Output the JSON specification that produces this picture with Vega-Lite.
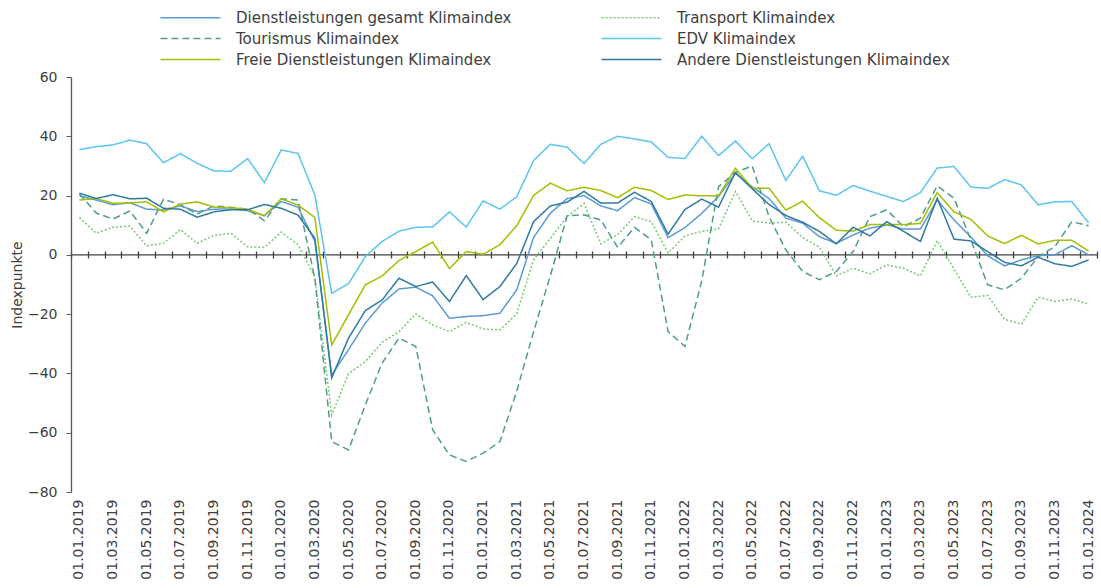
{
  "$schema": "https://vega.github.io/schema/vega-lite/v6.json",
  "width": 1026,
  "height": 415,
  "autosize": {"type": "none"},
  "padding": {"left": 71, "top": 77, "right": 4, "bottom": 96},
  "background": "white",
  "config": {
    "view": {"stroke": null},
    "font": "DejaVu Sans",
    "axis": {"labelFont": "DejaVu Sans", "titleFont": "DejaVu Sans"},
    "legend": {"labelFont": "DejaVu Sans"}
  },
  "datasets": {
    "klima": [
      {"d":"01.01.2019","Dienstleistungen gesamt Klimaindex":19.9,"Transport Klimaindex":12.6,"Tourismus Klimaindex":20.6,"EDV Klimaindex":35.5,"Freie Dienstleistungen Klimaindex":18.5,"Andere Dienstleistungen Klimaindex":20.8},
      {"d":"01.02.2019","Dienstleistungen gesamt Klimaindex":18.5,"Transport Klimaindex":7.3,"Tourismus Klimaindex":14.1,"EDV Klimaindex":36.5,"Freie Dienstleistungen Klimaindex":19.0,"Andere Dienstleistungen Klimaindex":19.0},
      {"d":"01.03.2019","Dienstleistungen gesamt Klimaindex":16.9,"Transport Klimaindex":9.3,"Tourismus Klimaindex":12.1,"EDV Klimaindex":37.1,"Freie Dienstleistungen Klimaindex":17.4,"Andere Dienstleistungen Klimaindex":20.3},
      {"d":"01.04.2019","Dienstleistungen gesamt Klimaindex":17.6,"Transport Klimaindex":9.7,"Tourismus Klimaindex":14.8,"EDV Klimaindex":38.7,"Freie Dienstleistungen Klimaindex":17.5,"Andere Dienstleistungen Klimaindex":18.9},
      {"d":"01.05.2019","Dienstleistungen gesamt Klimaindex":15.4,"Transport Klimaindex":3.0,"Tourismus Klimaindex":7.3,"EDV Klimaindex":37.5,"Freie Dienstleistungen Klimaindex":17.9,"Andere Dienstleistungen Klimaindex":19.1},
      {"d":"01.06.2019","Dienstleistungen gesamt Klimaindex":15.2,"Transport Klimaindex":3.9,"Tourismus Klimaindex":18.8,"EDV Klimaindex":31.1,"Freie Dienstleistungen Klimaindex":14.5,"Andere Dienstleistungen Klimaindex":15.7},
      {"d":"01.07.2019","Dienstleistungen gesamt Klimaindex":16.5,"Transport Klimaindex":8.5,"Tourismus Klimaindex":16.9,"EDV Klimaindex":34.1,"Freie Dienstleistungen Klimaindex":17.1,"Andere Dienstleistungen Klimaindex":15.4},
      {"d":"01.08.2019","Dienstleistungen gesamt Klimaindex":14.6,"Transport Klimaindex":3.9,"Tourismus Klimaindex":13.8,"EDV Klimaindex":30.9,"Freie Dienstleistungen Klimaindex":17.9,"Andere Dienstleistungen Klimaindex":12.7},
      {"d":"01.09.2019","Dienstleistungen gesamt Klimaindex":15.4,"Transport Klimaindex":6.6,"Tourismus Klimaindex":16.5,"EDV Klimaindex":28.3,"Freie Dienstleistungen Klimaindex":16.1,"Andere Dienstleistungen Klimaindex":14.5},
      {"d":"01.10.2019","Dienstleistungen gesamt Klimaindex":15.5,"Transport Klimaindex":7.3,"Tourismus Klimaindex":16.1,"EDV Klimaindex":28.2,"Freie Dienstleistungen Klimaindex":15.9,"Andere Dienstleistungen Klimaindex":15.2},
      {"d":"01.11.2019","Dienstleistungen gesamt Klimaindex":14.9,"Transport Klimaindex":2.7,"Tourismus Klimaindex":15.4,"EDV Klimaindex":32.5,"Freie Dienstleistungen Klimaindex":15.4,"Andere Dienstleistungen Klimaindex":15.2},
      {"d":"01.12.2019","Dienstleistungen gesamt Klimaindex":13.2,"Transport Klimaindex":2.5,"Tourismus Klimaindex":11.5,"EDV Klimaindex":24.4,"Freie Dienstleistungen Klimaindex":13.2,"Andere Dienstleistungen Klimaindex":17.0},
      {"d":"01.01.2020","Dienstleistungen gesamt Klimaindex":18.0,"Transport Klimaindex":7.7,"Tourismus Klimaindex":18.9,"EDV Klimaindex":35.4,"Freie Dienstleistungen Klimaindex":18.9,"Andere Dienstleistungen Klimaindex":15.7},
      {"d":"01.02.2020","Dienstleistungen gesamt Klimaindex":16.1,"Transport Klimaindex":3.4,"Tourismus Klimaindex":18.5,"EDV Klimaindex":34.2,"Freie Dienstleistungen Klimaindex":16.8,"Andere Dienstleistungen Klimaindex":13.4},
      {"d":"01.03.2020","Dienstleistungen gesamt Klimaindex":4.5,"Transport Klimaindex":-7.5,"Tourismus Klimaindex":-8.0,"EDV Klimaindex":20.2,"Freie Dienstleistungen Klimaindex":12.6,"Andere Dienstleistungen Klimaindex":5.6},
      {"d":"01.04.2020","Dienstleistungen gesamt Klimaindex":-40.5,"Transport Klimaindex":-54.0,"Tourismus Klimaindex":-63.0,"EDV Klimaindex":-13.0,"Freie Dienstleistungen Klimaindex":-30.4,"Andere Dienstleistungen Klimaindex":-41.5},
      {"d":"01.05.2020","Dienstleistungen gesamt Klimaindex":-32.0,"Transport Klimaindex":-40.1,"Tourismus Klimaindex":-65.8,"EDV Klimaindex":-9.7,"Freie Dienstleistungen Klimaindex":-20.2,"Andere Dienstleistungen Klimaindex":-28.1},
      {"d":"01.06.2020","Dienstleistungen gesamt Klimaindex":-23.0,"Transport Klimaindex":-36.0,"Tourismus Klimaindex":-50.6,"EDV Klimaindex":-0.6,"Freie Dienstleistungen Klimaindex":-10.1,"Andere Dienstleistungen Klimaindex":-18.8},
      {"d":"01.07.2020","Dienstleistungen gesamt Klimaindex":-16.3,"Transport Klimaindex":-29.5,"Tourismus Klimaindex":-36.5,"EDV Klimaindex":4.5,"Freie Dienstleistungen Klimaindex":-7.1,"Andere Dienstleistungen Klimaindex":-15.2},
      {"d":"01.08.2020","Dienstleistungen gesamt Klimaindex":-11.5,"Transport Klimaindex":-25.9,"Tourismus Klimaindex":-28.1,"EDV Klimaindex":8.0,"Freie Dienstleistungen Klimaindex":-1.9,"Andere Dienstleistungen Klimaindex":-7.9},
      {"d":"01.09.2020","Dienstleistungen gesamt Klimaindex":-10.9,"Transport Klimaindex":-19.9,"Tourismus Klimaindex":-30.9,"EDV Klimaindex":9.3,"Freie Dienstleistungen Klimaindex":1.1,"Andere Dienstleistungen Klimaindex":-10.7},
      {"d":"01.10.2020","Dienstleistungen gesamt Klimaindex":-13.8,"Transport Klimaindex":-23.6,"Tourismus Klimaindex":-59.0,"EDV Klimaindex":9.4,"Freie Dienstleistungen Klimaindex":4.3,"Andere Dienstleistungen Klimaindex":-9.2},
      {"d":"01.11.2020","Dienstleistungen gesamt Klimaindex":-21.4,"Transport Klimaindex":-25.9,"Tourismus Klimaindex":-67.5,"EDV Klimaindex":14.5,"Freie Dienstleistungen Klimaindex":-4.6,"Andere Dienstleistungen Klimaindex":-15.7},
      {"d":"01.12.2020","Dienstleistungen gesamt Klimaindex":-20.8,"Transport Klimaindex":-22.8,"Tourismus Klimaindex":-69.7,"EDV Klimaindex":9.4,"Freie Dienstleistungen Klimaindex":1.1,"Andere Dienstleistungen Klimaindex":-7.0},
      {"d":"01.01.2021","Dienstleistungen gesamt Klimaindex":-20.5,"Transport Klimaindex":-25.0,"Tourismus Klimaindex":-66.9,"EDV Klimaindex":18.2,"Freie Dienstleistungen Klimaindex":0.2,"Andere Dienstleistungen Klimaindex":-15.1},
      {"d":"01.02.2021","Dienstleistungen gesamt Klimaindex":-19.7,"Transport Klimaindex":-25.3,"Tourismus Klimaindex":-63.0,"EDV Klimaindex":15.4,"Freie Dienstleistungen Klimaindex":3.4,"Andere Dienstleistungen Klimaindex":-10.7},
      {"d":"01.03.2021","Dienstleistungen gesamt Klimaindex":-11.8,"Transport Klimaindex":-19.9,"Tourismus Klimaindex":-46.0,"EDV Klimaindex":19.6,"Freie Dienstleistungen Klimaindex":9.8,"Andere Dienstleistungen Klimaindex":-2.9},
      {"d":"01.04.2021","Dienstleistungen gesamt Klimaindex":5.8,"Transport Klimaindex":-1.7,"Tourismus Klimaindex":-26.0,"EDV Klimaindex":31.8,"Freie Dienstleistungen Klimaindex":20.0,"Andere Dienstleistungen Klimaindex":11.2},
      {"d":"01.05.2021","Dienstleistungen gesamt Klimaindex":14.1,"Transport Klimaindex":5.6,"Tourismus Klimaindex":-7.0,"EDV Klimaindex":37.3,"Freie Dienstleistungen Klimaindex":24.2,"Andere Dienstleistungen Klimaindex":16.5},
      {"d":"01.06.2021","Dienstleistungen gesamt Klimaindex":19.0,"Transport Klimaindex":12.9,"Tourismus Klimaindex":13.2,"EDV Klimaindex":36.3,"Freie Dienstleistungen Klimaindex":21.6,"Andere Dienstleistungen Klimaindex":17.8},
      {"d":"01.07.2021","Dienstleistungen gesamt Klimaindex":20.0,"Transport Klimaindex":17.4,"Tourismus Klimaindex":13.5,"EDV Klimaindex":30.8,"Freie Dienstleistungen Klimaindex":22.8,"Andere Dienstleistungen Klimaindex":21.4},
      {"d":"01.08.2021","Dienstleistungen gesamt Klimaindex":16.5,"Transport Klimaindex":3.7,"Tourismus Klimaindex":11.8,"EDV Klimaindex":37.3,"Freie Dienstleistungen Klimaindex":21.7,"Andere Dienstleistungen Klimaindex":17.5},
      {"d":"01.09.2021","Dienstleistungen gesamt Klimaindex":14.9,"Transport Klimaindex":6.8,"Tourismus Klimaindex":2.5,"EDV Klimaindex":40.0,"Freie Dienstleistungen Klimaindex":19.3,"Andere Dienstleistungen Klimaindex":17.5},
      {"d":"01.10.2021","Dienstleistungen gesamt Klimaindex":19.3,"Transport Klimaindex":12.9,"Tourismus Klimaindex":9.3,"EDV Klimaindex":39.1,"Freie Dienstleistungen Klimaindex":22.8,"Andere Dienstleistungen Klimaindex":21.1},
      {"d":"01.11.2021","Dienstleistungen gesamt Klimaindex":17.2,"Transport Klimaindex":11.2,"Tourismus Klimaindex":5.1,"EDV Klimaindex":38.1,"Freie Dienstleistungen Klimaindex":21.7,"Andere Dienstleistungen Klimaindex":18.0},
      {"d":"01.12.2021","Dienstleistungen gesamt Klimaindex":5.8,"Transport Klimaindex":0.6,"Tourismus Klimaindex":-25.9,"EDV Klimaindex":32.9,"Freie Dienstleistungen Klimaindex":18.7,"Andere Dienstleistungen Klimaindex":7.0},
      {"d":"01.01.2022","Dienstleistungen gesamt Klimaindex":9.2,"Transport Klimaindex":6.4,"Tourismus Klimaindex":-30.9,"EDV Klimaindex":32.5,"Freie Dienstleistungen Klimaindex":20.2,"Andere Dienstleistungen Klimaindex":15.3},
      {"d":"01.02.2022","Dienstleistungen gesamt Klimaindex":14.0,"Transport Klimaindex":7.9,"Tourismus Klimaindex":-8.8,"EDV Klimaindex":40.0,"Freie Dienstleistungen Klimaindex":19.9,"Andere Dienstleistungen Klimaindex":18.8},
      {"d":"01.03.2022","Dienstleistungen gesamt Klimaindex":19.7,"Transport Klimaindex":8.8,"Tourismus Klimaindex":23.0,"EDV Klimaindex":33.5,"Freie Dienstleistungen Klimaindex":19.9,"Andere Dienstleistungen Klimaindex":16.1},
      {"d":"01.04.2022","Dienstleistungen gesamt Klimaindex":27.5,"Transport Klimaindex":21.4,"Tourismus Klimaindex":27.8,"EDV Klimaindex":38.4,"Freie Dienstleistungen Klimaindex":29.2,"Andere Dienstleistungen Klimaindex":27.8},
      {"d":"01.05.2022","Dienstleistungen gesamt Klimaindex":22.9,"Transport Klimaindex":11.5,"Tourismus Klimaindex":30.0,"EDV Klimaindex":32.4,"Freie Dienstleistungen Klimaindex":22.5,"Andere Dienstleistungen Klimaindex":22.3},
      {"d":"01.06.2022","Dienstleistungen gesamt Klimaindex":19.0,"Transport Klimaindex":10.7,"Tourismus Klimaindex":12.9,"EDV Klimaindex":37.5,"Freie Dienstleistungen Klimaindex":22.5,"Andere Dienstleistungen Klimaindex":17.0},
      {"d":"01.07.2022","Dienstleistungen gesamt Klimaindex":12.4,"Transport Klimaindex":11.0,"Tourismus Klimaindex":1.7,"EDV Klimaindex":25.1,"Freie Dienstleistungen Klimaindex":15.1,"Andere Dienstleistungen Klimaindex":13.3},
      {"d":"01.08.2022","Dienstleistungen gesamt Klimaindex":10.7,"Transport Klimaindex":5.8,"Tourismus Klimaindex":-5.6,"EDV Klimaindex":33.3,"Freie Dienstleistungen Klimaindex":18.1,"Andere Dienstleistungen Klimaindex":11.0},
      {"d":"01.09.2022","Dienstleistungen gesamt Klimaindex":6.1,"Transport Klimaindex":2.6,"Tourismus Klimaindex":-8.4,"EDV Klimaindex":21.6,"Freie Dienstleistungen Klimaindex":12.5,"Andere Dienstleistungen Klimaindex":7.9},
      {"d":"01.10.2022","Dienstleistungen gesamt Klimaindex":3.9,"Transport Klimaindex":-7.1,"Tourismus Klimaindex":-5.6,"EDV Klimaindex":20.1,"Freie Dienstleistungen Klimaindex":8.3,"Andere Dienstleistungen Klimaindex":3.7},
      {"d":"01.11.2022","Dienstleistungen gesamt Klimaindex":6.7,"Transport Klimaindex":-4.5,"Tourismus Klimaindex":1.1,"EDV Klimaindex":23.4,"Freie Dienstleistungen Klimaindex":8.0,"Andere Dienstleistungen Klimaindex":9.3},
      {"d":"01.12.2022","Dienstleistungen gesamt Klimaindex":9.0,"Transport Klimaindex":-6.4,"Tourismus Klimaindex":12.9,"EDV Klimaindex":21.5,"Freie Dienstleistungen Klimaindex":10.2,"Andere Dienstleistungen Klimaindex":6.4},
      {"d":"01.01.2023","Dienstleistungen gesamt Klimaindex":10.1,"Transport Klimaindex":-3.4,"Tourismus Klimaindex":15.2,"EDV Klimaindex":19.7,"Freie Dienstleistungen Klimaindex":10.2,"Andere Dienstleistungen Klimaindex":11.2},
      {"d":"01.02.2023","Dienstleistungen gesamt Klimaindex":8.7,"Transport Klimaindex":-4.5,"Tourismus Klimaindex":9.5,"EDV Klimaindex":18.0,"Freie Dienstleistungen Klimaindex":10.2,"Andere Dienstleistungen Klimaindex":7.9},
      {"d":"01.03.2023","Dienstleistungen gesamt Klimaindex":8.7,"Transport Klimaindex":-7.1,"Tourismus Klimaindex":12.4,"EDV Klimaindex":21.0,"Freie Dienstleistungen Klimaindex":10.6,"Andere Dienstleistungen Klimaindex":4.5},
      {"d":"01.04.2023","Dienstleistungen gesamt Klimaindex":18.5,"Transport Klimaindex":4.8,"Tourismus Klimaindex":23.3,"EDV Klimaindex":29.3,"Freie Dienstleistungen Klimaindex":21.0,"Andere Dienstleistungen Klimaindex":19.1},
      {"d":"01.05.2023","Dienstleistungen gesamt Klimaindex":11.8,"Transport Klimaindex":-4.8,"Tourismus Klimaindex":19.1,"EDV Klimaindex":29.8,"Freie Dienstleistungen Klimaindex":14.5,"Andere Dienstleistungen Klimaindex":5.3},
      {"d":"01.06.2023","Dienstleistungen gesamt Klimaindex":6.0,"Transport Klimaindex":-14.3,"Tourismus Klimaindex":5.1,"EDV Klimaindex":22.9,"Freie Dienstleistungen Klimaindex":12.0,"Andere Dienstleistungen Klimaindex":4.7},
      {"d":"01.07.2023","Dienstleistungen gesamt Klimaindex":-0.3,"Transport Klimaindex":-13.7,"Tourismus Klimaindex":-10.1,"EDV Klimaindex":22.4,"Freie Dienstleistungen Klimaindex":6.4,"Andere Dienstleistungen Klimaindex":1.1},
      {"d":"01.08.2023","Dienstleistungen gesamt Klimaindex":-3.7,"Transport Klimaindex":-21.7,"Tourismus Klimaindex":-11.8,"EDV Klimaindex":25.4,"Freie Dienstleistungen Klimaindex":3.8,"Andere Dienstleistungen Klimaindex":-2.5},
      {"d":"01.09.2023","Dienstleistungen gesamt Klimaindex":-1.7,"Transport Klimaindex":-23.4,"Tourismus Klimaindex":-7.9,"EDV Klimaindex":23.6,"Freie Dienstleistungen Klimaindex":6.6,"Andere Dienstleistungen Klimaindex":-3.7},
      {"d":"01.10.2023","Dienstleistungen gesamt Klimaindex":-0.3,"Transport Klimaindex":-14.3,"Tourismus Klimaindex":-0.6,"EDV Klimaindex":16.9,"Freie Dienstleistungen Klimaindex":3.7,"Andere Dienstleistungen Klimaindex":-0.8},
      {"d":"01.11.2023","Dienstleistungen gesamt Klimaindex":0.0,"Transport Klimaindex":-15.7,"Tourismus Klimaindex":2.8,"EDV Klimaindex":17.9,"Freie Dienstleistungen Klimaindex":4.9,"Andere Dienstleistungen Klimaindex":-3.0},
      {"d":"01.12.2023","Dienstleistungen gesamt Klimaindex":3.1,"Transport Klimaindex":-14.9,"Tourismus Klimaindex":11.2,"EDV Klimaindex":18.0,"Freie Dienstleistungen Klimaindex":4.9,"Andere Dienstleistungen Klimaindex":-3.9},
      {"d":"01.01.2024","Dienstleistungen gesamt Klimaindex":0.0,"Transport Klimaindex":-16.6,"Tourismus Klimaindex":9.8,"EDV Klimaindex":10.8,"Freie Dienstleistungen Klimaindex":1.3,"Andere Dienstleistungen Klimaindex":-1.7}
    ]
  },
  "data": {"name": "klima"},
  "transform": [
    {"fold": ["Dienstleistungen gesamt Klimaindex", "Transport Klimaindex", "Tourismus Klimaindex", "EDV Klimaindex", "Freie Dienstleistungen Klimaindex", "Andere Dienstleistungen Klimaindex"], "as": ["series", "value"]}
  ],
  "layer": [
    {
      "data": {"values": [{}]},
      "transform": [],
      "mark": {"type": "rule", "color": "#404040", "strokeWidth": 1.3},
      "encoding": {"y": {"datum": 0, "type": "quantitative", "title": "Indexpunkte"}}
    },
    {
      "mark": {"type": "line", "strokeOpacity": 0},
      "encoding": {
        "x": {"field": "d", "type": "ordinal", "sort": null, "bandPosition": 0.5, "title": null,
              "scale": {"type": "band", "paddingInner": 0, "paddingOuter": 0},
              "axis": {"orient": "bottom", "offset": -241, "domain": false, "labels": false, "ticks": true, "tickSize": 7, "tickColor": "#404040", "tickWidth": 1.3, "tickBand": "extent", "grid": false, "title": null}},
        "y": {"field": "value", "type": "quantitative", "title": "Indexpunkte"},
        "detail": {"field": "series"}
      }
    },
    {
      "mark": {"type": "line", "strokeWidth": 1.5},
      "encoding": {
        "x": {"field": "d", "type": "ordinal", "sort": null, "bandPosition": 0.5, "title": null,
              "scale": {"type": "band", "paddingInner": 0, "paddingOuter": 0},
              "axis": {"orient": "bottom", "domain": false, "ticks": false, "grid": false, "title": null,
                       "labelAngle": 270, "labelAlign": "right", "labelBaseline": "middle", "labelPadding": 7,
                       "labelFontSize": 14, "labelColor": "#404040",
                       "values": ["01.01.2019","01.03.2019","01.05.2019","01.07.2019","01.09.2019","01.11.2019","01.01.2020","01.03.2020","01.05.2020","01.07.2020","01.09.2020","01.11.2020","01.01.2021","01.03.2021","01.05.2021","01.07.2021","01.09.2021","01.11.2021","01.01.2022","01.03.2022","01.05.2022","01.07.2022","01.09.2022","01.11.2022","01.01.2023","01.03.2023","01.05.2023","01.07.2023","01.09.2023","01.11.2023","01.01.2024"]}},
        "y": {"field": "value", "type": "quantitative", "title": "Indexpunkte",
              "scale": {"domain": [-80, 60], "nice": false, "zero": false},
              "axis": {"values": [-80, -60, -40, -20, 0, 20, 40, 60], "grid": false, "domain": true, "domainColor": "#595959", "domainWidth": 1.3,
                       "ticks": true, "tickSize": 5, "tickColor": "#595959", "labelPadding": 9, "labelFontSize": 14, "labelColor": "#404040",
                       "titleFontSize": 14, "titleFontWeight": "normal", "titleColor": "#404040", "titlePadding": 3}},
        "color": {"field": "series", "type": "nominal",
                  "scale": {"domain": ["Dienstleistungen gesamt Klimaindex", "Tourismus Klimaindex", "Freie Dienstleistungen Klimaindex", "Transport Klimaindex", "EDV Klimaindex", "Andere Dienstleistungen Klimaindex"],
                            "range": ["#5b9bd5", "#4f9d8c", "#a5be00", "#7cc576", "#5bc5f2", "#2f7aa0"]},
                  "legend": {"orient": "none", "legendX": 87, "legendY": -67, "columns": 2, "title": null, "symbolType": "M-1,0H11", "symbolSize": 100, "symbolStrokeWidth": 1.5,
                             "labelFontSize": 15, "labelColor": "#404040", "labelLimit": 500, "columnPadding": 86, "rowPadding": 5, "labelOffset": 63}},
        "strokeDash": {"field": "series", "type": "nominal",
                       "scale": {"domain": ["Dienstleistungen gesamt Klimaindex", "Tourismus Klimaindex", "Freie Dienstleistungen Klimaindex", "Transport Klimaindex", "EDV Klimaindex", "Andere Dienstleistungen Klimaindex"],
                                 "range": [[1, 0], [7, 4], [1, 0], [2, 2], [1, 0], [1, 0]]},
                       "legend": {"orient": "none", "legendX": 87, "legendY": -67, "columns": 2, "title": null, "symbolType": "M-1,0H11", "symbolSize": 100, "symbolStrokeWidth": 1.5,
                             "labelFontSize": 15, "labelColor": "#404040", "labelLimit": 500, "columnPadding": 86, "rowPadding": 5, "labelOffset": 63}}
      }
    }
  ],
  "resolve": {"axis": {"x": "independent"}}
}
